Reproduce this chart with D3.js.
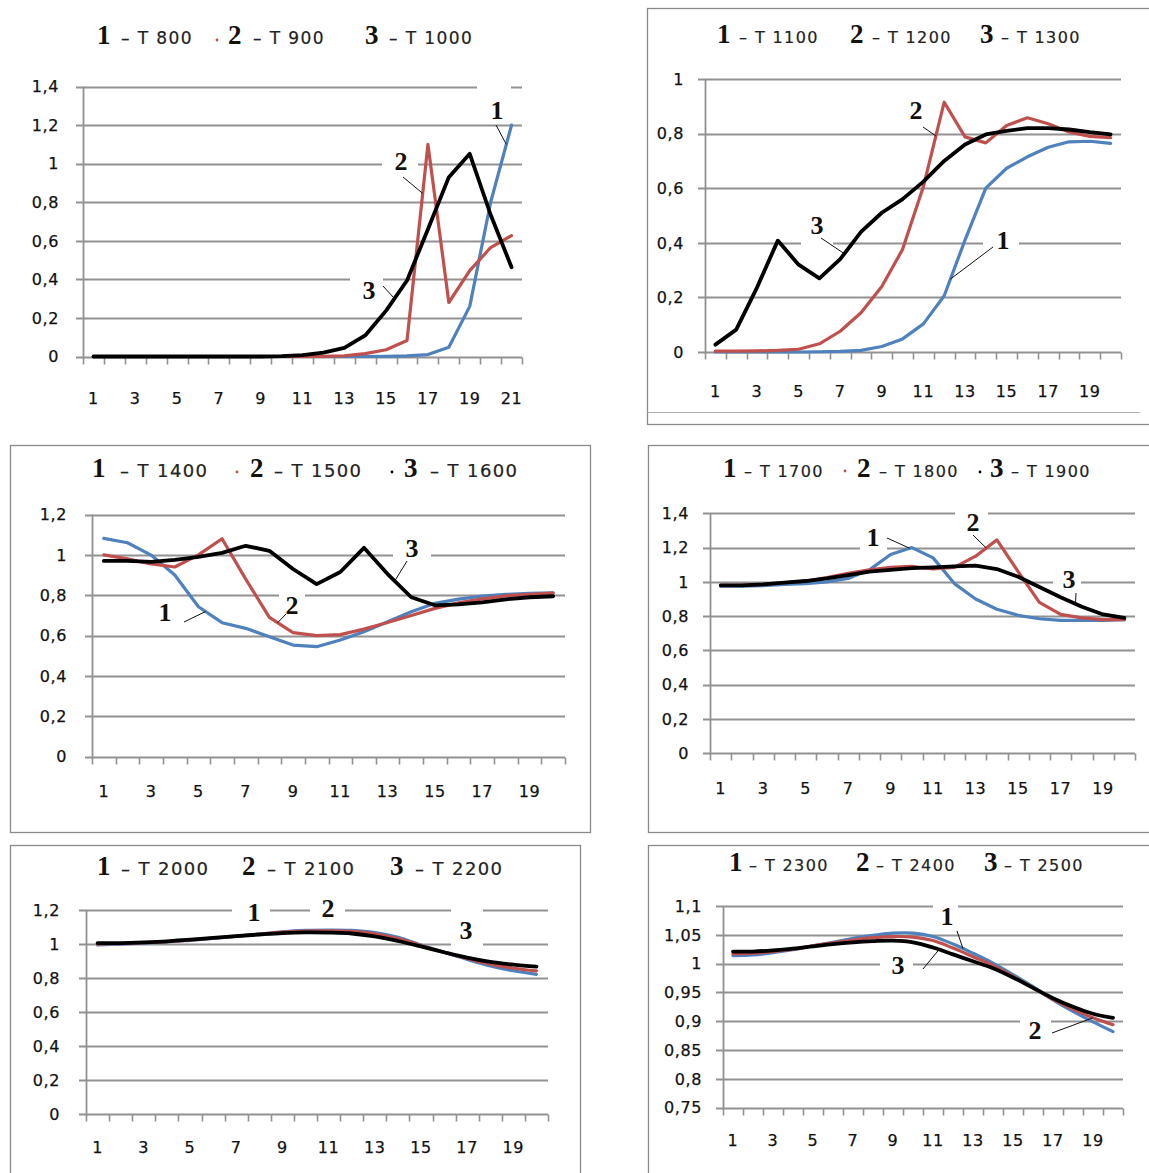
<!DOCTYPE html>
<html>
<head>
<meta charset="utf-8">
<script src="https://cdn.jsdelivr.net/npm/d3@7"></script>
<style>
  body { margin: 0; background: #fff; }
  svg { display: block; }
</style>
</head>
<body>
<svg id="chart" width="1149" height="1173"></svg>
<script>
// categories
const cats21 = d3.range(1, 22);
const cats20 = d3.range(1, 21);

// y tick values
const yTicks14 = [0, 0.2, 0.4, 0.6, 0.8, 1, 1.2, 1.4];
const yTicks10 = [0, 0.2, 0.4, 0.6, 0.8, 1];
const yTicks12 = [0, 0.2, 0.4, 0.6, 0.8, 1, 1.2];
const yTicksFine = [0.75, 0.8, 0.85, 0.9, 0.95, 1, 1.05, 1.1];

// legend names
const p1Names = ["T 800", "T 900", "T 1000"];
const p2Names = ["T 1100", "T 1200", "T 1300"];
const p3Names = ["T 1400", "T 1500", "T 1600"];
const p4Names = ["T 1700", "T 1800", "T 1900"];
const p5Names = ["T 2000", "T 2100", "T 2200"];
const p6Names = ["T 2300", "T 2400", "T 2500"];

// panel 1 (21 points)
const p1Blue  = [0, 0, 0, 0, 0, 0, 0, 0, 0, 0, 0, 0, 0, 0, 0.001, 0.003, 0.01, 0.048, 0.26, 0.8, 1.2];
const p1Red   = [0, 0, 0, 0, 0, 0, 0, 0, 0, 0, 0, 0.001, 0.004, 0.015, 0.035, 0.083, 1.1, 0.28, 0.445, 0.565, 0.627];
const p1Black = [0, 0, 0, 0, 0, 0, 0, 0, 0, 0.002, 0.007, 0.02, 0.045, 0.109, 0.238, 0.394, 0.66, 0.93, 1.051, 0.735, 0.463];

// panel 2
const p2Blue  = [0, 0, 0, 0, 0, 0.001, 0.002, 0.006, 0.02, 0.048, 0.103, 0.206, 0.41, 0.6, 0.673, 0.715, 0.75, 0.77, 0.772, 0.764];
const p2Red   = [0.003, 0.003, 0.004, 0.006, 0.01, 0.03, 0.076, 0.144, 0.24, 0.376, 0.606, 0.915, 0.788, 0.766, 0.83, 0.858, 0.836, 0.806, 0.79, 0.785];
const p2Black = [0.027, 0.082, 0.236, 0.408, 0.32, 0.27, 0.34, 0.44, 0.51, 0.56, 0.624, 0.7, 0.76, 0.797, 0.81, 0.82, 0.82, 0.815, 0.805, 0.797];

// panel 3
const p3Blue  = [1.082, 1.06, 0.999, 0.9, 0.743, 0.664, 0.636, 0.594, 0.553, 0.545, 0.578, 0.619, 0.669, 0.718, 0.76, 0.781, 0.796, 0.804, 0.809, 0.812];
const p3Red   = [1.0, 0.98, 0.955, 0.94, 1.0, 1.08, 0.88, 0.69, 0.615, 0.6, 0.605, 0.632, 0.665, 0.7, 0.735, 0.762, 0.782, 0.797, 0.805, 0.81];
const p3Black = [0.97, 0.97, 0.965, 0.975, 0.99, 1.01, 1.045, 1.02, 0.93, 0.855, 0.915, 1.035, 0.905, 0.79, 0.75, 0.755, 0.765, 0.78, 0.79, 0.795];

// panel 4
const p4Blue  = [0.975, 0.975, 0.978, 0.985, 0.99, 1.0, 1.02, 1.07, 1.16, 1.2, 1.14, 0.99, 0.9, 0.84, 0.805, 0.785, 0.775, 0.775, 0.775, 0.78];
const p4Red   = [0.98, 0.98, 0.985, 0.995, 1.005, 1.025, 1.05, 1.07, 1.085, 1.09, 1.075, 1.085, 1.15, 1.245, 1.06, 0.88, 0.81, 0.79, 0.78, 0.78];
const p4Black = [0.98, 0.98, 0.985, 0.995, 1.005, 1.02, 1.04, 1.06, 1.07, 1.08, 1.085, 1.09, 1.095, 1.075, 1.03, 0.97, 0.91, 0.855, 0.81, 0.79];

// panel 5
const p5Blue  = [0.995, 1.0, 1.006, 1.012, 1.022, 1.033, 1.045, 1.058, 1.072, 1.08, 1.082, 1.08, 1.068, 1.04, 0.995, 0.952, 0.91, 0.872, 0.843, 0.822];
const p5Red   = [1.0, 1.003, 1.008, 1.014, 1.024, 1.035, 1.047, 1.058, 1.07, 1.076, 1.078, 1.074, 1.06, 1.032, 0.992, 0.952, 0.915, 0.882, 0.858, 0.842];
const p5Black = [1.006, 1.006, 1.01, 1.016, 1.026, 1.036, 1.047, 1.056, 1.064, 1.068, 1.067, 1.062, 1.045, 1.018, 0.986, 0.952, 0.92, 0.895, 0.879, 0.867];

// panel 6
const p6Blue  = [1.014, 1.015, 1.019, 1.024, 1.031, 1.037, 1.044, 1.049, 1.053, 1.053, 1.047, 1.034, 1.018, 1.001, 0.981, 0.96, 0.937, 0.917, 0.899, 0.882];
const p6Red   = [1.017, 1.018, 1.021, 1.025, 1.031, 1.036, 1.041, 1.045, 1.047, 1.046, 1.04, 1.027, 1.012, 0.997, 0.978, 0.958, 0.938, 0.921, 0.906, 0.894];
const p6Black = [1.021, 1.021, 1.023, 1.026, 1.03, 1.034, 1.037, 1.039, 1.04, 1.037, 1.028, 1.016, 1.004, 0.992, 0.976, 0.958, 0.94, 0.925, 0.913, 0.906];

const colors = ["#4f81bd", "#c0504d", "#000000"];
const widths = [3.2, 3.2, 3.8];
const gridColor = "#929292";
const frameColor = "#8a8a8a";

const panels = [
  {
    cats: cats21, labels: cats21.filter(d => d % 2), domain: [0, 1.4], ticks: yTicks14,
    series: [p1Blue, p1Red, p1Black], names: p1Names, curve: d3.curveLinear,
    plot: { l: 83, r: 522, t: 86.5, b: 356.5 }, yLabelX: 59, xLabelY: 398,
    legend: { y: 44, size: 17, digits: [97, 228, 365], texts: [121, 253, 389], dots: [[217, 40, 1]] },
    frame: null,
    notes: [
      { t: "1", x: 497, y: 110, box: [477, 84, 511, 124], from: [496, 125], s: 0, c: 20.75 },
      { t: "2", x: 401, y: 161, box: [382, 146, 418, 178], from: [403, 177], s: 1, c: 16.75 },
      { t: "3", x: 369, y: 290, box: [350, 274, 383, 304], from: [383, 286], s: 2, c: 15.4 }
    ]
  },
  {
    cats: cats20, labels: cats20.filter(d => d % 2), domain: [0, 1], ticks: yTicks10,
    series: [p2Blue, p2Red, p2Black], names: p2Names, curve: d3.curveLinear,
    plot: { l: 705, r: 1121, t: 79, b: 352 }, yLabelX: 684, xLabelY: 391,
    legend: { y: 43, size: 16, digits: [717, 850, 980], texts: [739, 872, 1001], dots: [] },
    frame: { x: 647.5, y: 8.5, w: 520, h: 416, inner: 412.5, innerR: 1140 },
    notes: [
      { t: "2", x: 916, y: 110, box: [900, 94, 932, 124], from: [923, 127], s: 1, c: 11.6 },
      { t: "3", x: 817, y: 225, box: [801, 209, 833, 246], from: [821, 238], s: 2, c: 7.2 },
      { t: "1", x: 1003, y: 240, box: [983, 224, 1019, 256], from: [993, 247], s: 0, c: 12.3 }
    ]
  },
  {
    cats: cats20, labels: cats20.filter(d => d % 2), domain: [0, 1.2], ticks: yTicks12,
    series: [p3Blue, p3Red, p3Black], names: p3Names, curve: d3.curveLinear,
    plot: { l: 92, r: 565, t: 514.5, b: 756.7 }, yLabelX: 67, xLabelY: 791,
    legend: { y: 477, size: 18, digits: [92, 250, 404], texts: [120, 274, 430], dots: [[237, 472, 1], [392, 472, 2]] },
    frame: { x: 10.5, y: 445.5, w: 580, h: 387 },
    notes: [
      { t: "1", x: 165, y: 612, box: [150, 597, 181, 627], from: [184, 622], s: 0, c: 5.3 },
      { t: "2", x: 292, y: 605, box: [279, 591, 305, 615], from: [286, 614], s: 1, c: 8.35 },
      { t: "3", x: 412, y: 548, box: [393, 532, 431, 564], from: [407, 561], s: 2, c: 13.3 }
    ]
  },
  {
    cats: cats20, labels: cats20.filter(d => d % 2), domain: [0, 1.4], ticks: yTicks14,
    series: [p4Blue, p4Red, p4Black], names: p4Names, curve: d3.curveLinear,
    plot: { l: 710, r: 1135, t: 513.3, b: 753.3 }, yLabelX: 689, xLabelY: 788,
    legend: { y: 477, size: 16, digits: [723, 857, 990], texts: [744, 879, 1011], dots: [[845, 471, 1], [980, 472, 2]] },
    frame: { x: 648.5, y: 445.5, w: 520, h: 387 },
    notes: [
      { t: "1", x: 873, y: 537, box: [860, 523, 887, 553], from: [887, 538], s: 0, c: 9.9 },
      { t: "2", x: 973, y: 522, box: [955, 506, 988, 534], from: [973, 535], s: 1, c: 13.5 },
      { t: "3", x: 1069, y: 579, box: [1053, 564, 1081, 592], from: [1076, 593], s: 2, c: 17.7 }
    ]
  },
  {
    cats: cats20, labels: cats20.filter(d => d % 2), domain: [0, 1.2], ticks: yTicks12,
    series: [p5Blue, p5Red, p5Black], names: p5Names, curve: d3.curveCatmullRom,
    plot: { l: 86, r: 548, t: 910, b: 1114.3 }, yLabelX: 60, xLabelY: 1147,
    legend: { y: 875, size: 18, digits: [97, 242, 390], texts: [121, 267, 415], dots: [] },
    frame: { x: 10.5, y: 845.5, w: 570, h: 400 },
    notes: [
      { t: "1", x: 254, y: 912, box: [232, 898, 270, 928] },
      { t: "2", x: 328, y: 908, box: [310, 894, 345, 924] },
      { t: "3", x: 466, y: 930, box: [451, 904, 483, 948] }
    ]
  },
  {
    cats: cats20, labels: cats20.filter(d => d % 2), domain: [0.75, 1.1], ticks: yTicksFine,
    series: [p6Blue, p6Red, p6Black], names: p6Names, curve: d3.curveCatmullRom,
    plot: { l: 723, r: 1123, t: 906, b: 1107.7 }, yLabelX: 702, xLabelY: 1140,
    legend: { y: 871, size: 16, digits: [729, 856, 984], texts: [749, 876, 1004], dots: [] },
    frame: { x: 648.5, y: 845.5, w: 520, h: 400 },
    notes: [
      { t: "1", x: 947, y: 916, box: [933, 900, 958, 928], from: [957, 931], s: 0, c: 12.5 },
      { t: "3", x: 898, y: 965, box: [880, 951, 913, 979], from: [923, 969], s: 2, c: 11.3 },
      { t: "2", x: 1035, y: 1030, box: [1020, 1016, 1051, 1044], from: [1052, 1033], s: 1, c: 19 }
    ]
  }
];

const svg = d3.select("#chart");
const yFmt = d => String(+d.toFixed(2)).replace(".", ",");

// value of a series at a fractional category number
function valueAt(arr, c) {
  const i = Math.floor(c);
  const f = c - i;
  const a = arr[i - 1], b = arr[Math.min(i, arr.length - 1)];
  return a + f * (b - a);
}

panels.forEach(p => {
  const g = svg.append("g");
  const n = p.cats.length;
  const x = d3.scaleLinear().domain([0.5, n + 0.5]).range([p.plot.l, p.plot.r]);
  const y = d3.scaleLinear().domain(p.domain).range([p.plot.b, p.plot.t]);
  const snap = v => Math.round(v) + 0.5;

  // frame
  if (p.frame) {
    const f = p.frame;
    g.append("rect")
      .attr("x", f.x).attr("y", f.y).attr("width", f.w).attr("height", f.h)
      .attr("fill", "none").attr("stroke", frameColor).attr("stroke-width", 1.3);
    if (f.inner) {
      g.append("line")
        .attr("x1", f.x).attr("x2", f.innerR).attr("y1", f.inner).attr("y2", f.inner)
        .attr("stroke", "#b0b0b0").attr("stroke-width", 1.2);
    }
  }

  // gridlines (incl. the category axis at the bottom)
  g.selectAll("line.grid")
    .data(p.ticks)
    .join("line")
    .attr("class", "grid")
    .attr("x1", p.plot.l - 7).attr("x2", p.plot.r)
    .attr("y1", d => snap(y(d))).attr("y2", d => snap(y(d)))
    .attr("stroke", gridColor).attr("stroke-width", 1.8);

  // value axis line
  g.append("line")
    .attr("x1", snap(p.plot.l)).attr("x2", snap(p.plot.l))
    .attr("y1", y(p.domain[1])).attr("y2", snap(y(p.domain[0])) + 1)
    .attr("stroke", gridColor).attr("stroke-width", 1.8);

  // category tick marks
  g.selectAll("line.xtick")
    .data(d3.range(n + 1))
    .join("line")
    .attr("class", "xtick")
    .attr("x1", i => snap(x(i + 0.5))).attr("x2", i => snap(x(i + 0.5)))
    .attr("y1", snap(y(p.domain[0]))).attr("y2", snap(y(p.domain[0])) + 7)
    .attr("stroke", gridColor).attr("stroke-width", 1.6);

  // value labels
  g.selectAll("text.ylab")
    .data(p.ticks)
    .join("text")
    .attr("class", "ylab")
    .attr("x", p.yLabelX).attr("y", d => y(d))
    .attr("dy", "0.36em")
    .attr("text-anchor", "end")
    .attr("font-family", "DejaVu Sans, Verdana, sans-serif")
    .attr("font-size", 16).attr("letter-spacing", 0.6)
    .attr("fill", "#111")
    .attr("stroke", "#111").attr("stroke-width", 0.25)
    .text(yFmt);

  // category labels
  g.selectAll("text.xlab")
    .data(p.labels)
    .join("text")
    .attr("class", "xlab")
    .attr("x", d => x(d)).attr("y", p.xLabelY)
    .attr("dy", "0.36em")
    .attr("text-anchor", "middle")
    .attr("font-family", "DejaVu Sans, Verdana, sans-serif")
    .attr("font-size", 16).attr("letter-spacing", 0.6)
    .attr("fill", "#111")
    .attr("stroke", "#111").attr("stroke-width", 0.25)
    .text(d => d);

  // white boxes behind the curve labels
  g.selectAll("rect.nbox")
    .data(p.notes)
    .join("rect")
    .attr("class", "nbox")
    .attr("x", d => d.box[0]).attr("y", d => d.box[1])
    .attr("width", d => d.box[2] - d.box[0]).attr("height", d => d.box[3] - d.box[1])
    .attr("fill", "#fff");

  // series
  const line = d3.line()
    .x((d, i) => x(p.cats[i]))
    .y(d => y(d))
    .curve(p.curve);
  g.selectAll("path.series")
    .data(p.series)
    .join("path")
    .attr("class", "series")
    .attr("d", line)
    .attr("fill", "none")
    .attr("stroke", (d, i) => colors[i])
    .attr("stroke-width", (d, i) => widths[i])
    .attr("stroke-linejoin", "round")
    .attr("stroke-linecap", "round");

  // leader lines to curves
  g.selectAll("line.lead")
    .data(p.notes.filter(d => d.from))
    .join("line")
    .attr("class", "lead")
    .attr("x1", d => d.from[0]).attr("y1", d => d.from[1])
    .attr("x2", d => x(d.c)).attr("y2", d => y(valueAt(p.series[d.s], d.c)))
    .attr("stroke", "#111").attr("stroke-width", 1);

  // curve labels
  g.selectAll("text.note")
    .data(p.notes)
    .join("text")
    .attr("class", "note")
    .attr("x", d => d.x).attr("y", d => d.y)
    .attr("dy", "0.34em")
    .attr("text-anchor", "middle")
    .attr("font-family", "Liberation Serif, Times New Roman, serif")
    .attr("font-weight", "bold")
    .attr("font-size", 26)
    .attr("fill", "#14100a")
    .text(d => d.t);

  // legend
  const lg = p.legend;
  p.names.forEach((name, i) => {
    g.append("text")
      .attr("x", lg.digits[i]).attr("y", lg.y)
      .attr("font-family", "Liberation Serif, Times New Roman, serif")
      .attr("font-weight", "bold").attr("font-size", 27)
      .attr("fill", "#14100a")
      .text(i + 1);
    g.append("text")
      .attr("x", lg.texts[i]).attr("y", lg.y)
      .attr("font-family", "DejaVu Sans, Verdana, sans-serif")
      .attr("font-size", lg.size).attr("letter-spacing", 1.4)
      .attr("fill", "#222")
      .attr("stroke", "#222").attr("stroke-width", 0.2)
      .text("– " + name);
  });
  g.selectAll("circle.ldot")
    .data(lg.dots)
    .join("circle")
    .attr("class", "ldot")
    .attr("cx", d => d[0]).attr("cy", d => d[1]).attr("r", 1.4)
    .attr("fill", d => colors[d[2]]);
});
</script>
</body>
</html>
